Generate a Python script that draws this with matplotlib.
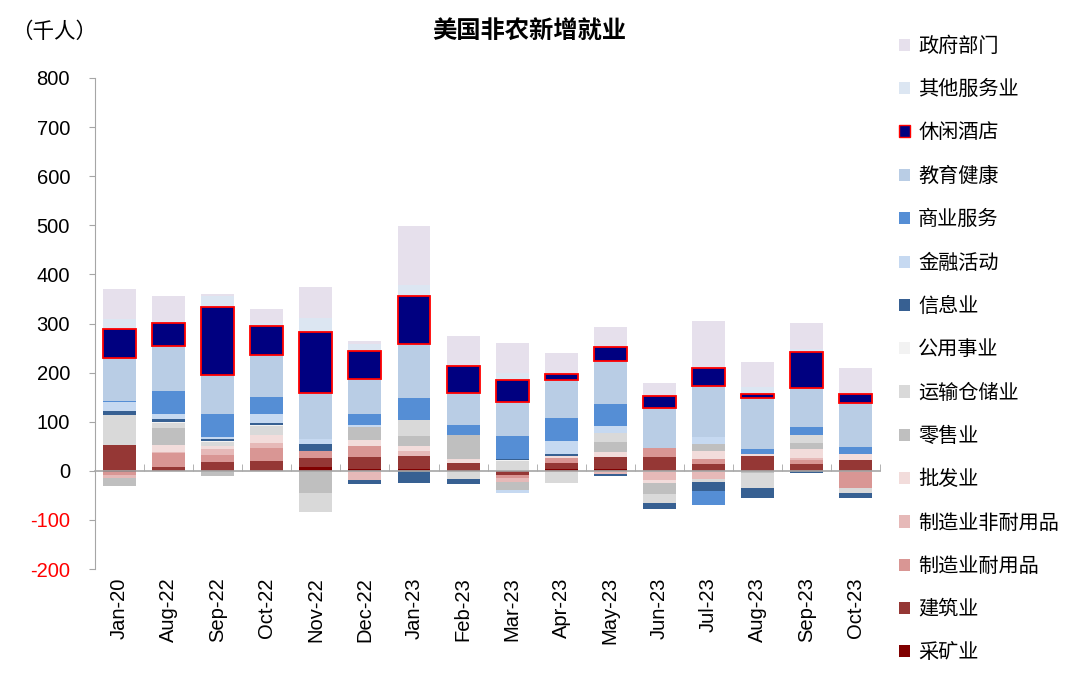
import numpy as np
import matplotlib
matplotlib.use('Agg')
import matplotlib.pyplot as plt
from matplotlib.patches import Patch

#%% Data (千人)
months = ['Jan-20', 'Aug-22', 'Sep-22', 'Oct-22', 'Nov-22', 'Dec-22', 'Jan-23', 'Feb-23',
          'Mar-23', 'Apr-23', 'May-23', 'Jun-23', 'Jul-23', 'Aug-23', 'Sep-23', 'Oct-23']

mining        = [-3, 0, 0, 0, 7, 4, 4, 1, -2, 4, 4, 0, 0, 0, 0, 0]
construction  = [52, 8, 17, 20, 20, 25, 26, 14, -7, 11, 25, 29, 14, 30, 14, 23]
durable       = [-6, 29, 15, 26, 14, 22, 0, 0, -5, 12, 0, 17, 11, 0, 9, -36]
nondurable    = [-5, 2, 12, 10, 0, -18, 11, 0, -8, -3, -7, -18, -16, 0, 4, 0]
wholesale     = [0, 13, 7, 16, 0, 12, 9, 10, 0, 4, 10, -7, 16, 5, 17, 12]
retail        = [-17, 35, -11, 0, -46, 26, 21, 47, -18, 0, 20, -22, 13, -5, 13, 0]
transport     = [61, 10, 8, 19, -37, 0, 32, -17, 20, -22, 19, -19, -7, -29, 16, -10]
utilities     = [0, 2, 2, 3, 0, 0, 0, 0, 3, 0, 0, 0, 0, 0, 0, 0]
information   = [9, 7, 4, 4, 13, -9, -25, -9, 2, 3, -4, -12, -18, -22, -4, -10]
financial     = [18, 10, 3, 17, 10, 4, 0, 0, -5, 27, 13, 0, 15, 0, 0, 0]
business      = [3, 47, 47, 35, 0, 23, 45, 21, 45, 46, 45, 0, -29, 9, 17, 14]
education     = [87, 92, 80, 86, 95, 71, 111, 65, 70, 78, 88, 81, 104, 104, 78, 90]
leisure       = [58, 47, 138, 59, 123, 57, 98, 56, 45, 12, 29, 25, 37, 8, 73, 17]
other_serv    = [21, 3, 22, 7, 29, 15, 21, 0, 15, 0, 0, 0, 0, 14, 7, 3]
government    = [61, 51, 5, 28, 63, 6, 120, 60, 60, 42, 39, 26, 95, 51, 53, 50]

# stacking order, bottom to top
series = [
    ('采矿业', mining, '#800000'),
    ('建筑业', construction, '#953735'),
    ('制造业耐用品', durable, '#d99694'),
    ('制造业非耐用品', nondurable, '#e6b9b8'),
    ('批发业', wholesale, '#f2dcdb'),
    ('零售业', retail, '#bfbfbf'),
    ('运输仓储业', transport, '#d9d9d9'),
    ('公用事业', utilities, '#f2f2f2'),
    ('信息业', information, '#376092'),
    ('金融活动', financial, '#c6d9f1'),
    ('商业服务', business, '#558ed5'),
    ('教育健康', education, '#b9cde5'),
    ('休闲酒店', leisure, '#000080'),
    ('其他服务业', other_serv, '#dce6f2'),
    ('政府部门', government, '#e6e0ec'),
]

#%% Fonts
plt.rcParams['font.family'] = ['Liberation Sans', 'Noto Sans CJK SC']
plt.rcParams['font.size'] = 14.5
plt.rcParams['axes.unicode_minus'] = False

#%% Figure
fig = plt.figure(figsize=(10.8, 6.77), dpi=100)
ax = fig.add_axes([0.088, 0.1595, 0.727, 0.7253])

x = np.arange(len(months))
pos_bottom = np.zeros(len(months))
neg_bottom = np.zeros(len(months))
handles = []
for name, vals, color in series:
    v = np.array(vals, dtype=float)
    bottom = np.where(v >= 0, pos_bottom, neg_bottom)
    if name == '休闲酒店':
        ax.bar(x, v, 0.67, bottom=bottom, color=color, edgecolor='#ff0000', linewidth=1.3, zorder=3)
        handles.append(Patch(facecolor=color, edgecolor='#ff0000', linewidth=1.0, label=name))
    else:
        ax.bar(x, v, 0.67, bottom=bottom, color=color, edgecolor='none', zorder=2)
        handles.append(Patch(facecolor=color, edgecolor='none', label=name))
    pos_bottom += np.where(v >= 0, v, 0)
    neg_bottom += np.where(v < 0, v, 0)

# Axes limits and spines
ax.set_xlim(-0.5, len(months) - 0.5)
ax.set_ylim(-200, 800)
ax.set_yticks(np.arange(-200, 801, 100))
for s in ['top', 'right']:
    ax.spines[s].set_visible(False)
ax.spines['left'].set_color('#a6a6a6')
ax.spines['bottom'].set_position(('data', 0))
ax.spines['bottom'].set_color('#a6a6a6')
ax.spines['bottom'].set_linewidth(1.2)
ax.tick_params(axis='y', direction='out', length=4, color='#a6a6a6', pad=14)
for lab in ax.get_yticklabels():
    if float(lab.get_text().replace('\u2212', '-')) < 0:
        lab.set_color('red')

# category boundary ticks on the zero line, labels at the bottom
ax.set_xticks(x)
ax.tick_params(axis='x', which='major', length=0, labelbottom=False)
ax.set_xticks(np.arange(-0.5, len(months)), minor=True)
ax.tick_params(axis='x', which='minor', direction='in', length=5, color='#a6a6a6')
sec = ax.secondary_xaxis(0.0)
sec.set_xticks(x, months, rotation=90)
sec.tick_params(length=0, pad=6)
sec.spines['bottom'].set_visible(False)

# Titles
fig.text(0.49, 0.953, '美国非农新增就业', ha='center', va='center', fontsize=17.5, fontweight='bold')
fig.text(0.010, 0.952, '（千人）', ha='left', va='center', fontsize=15.5)

# Legend
fig.legend(handles[::-1], [h.get_label() for h in handles[::-1]],
           loc='upper left', bbox_to_anchor=(0.825, 0.958), frameon=False,
           handlelength=0.55, handleheight=0.55, handletextpad=0.4,
           labelspacing=1.2, borderaxespad=0)

plt.savefig('out.png', dpi=100)
